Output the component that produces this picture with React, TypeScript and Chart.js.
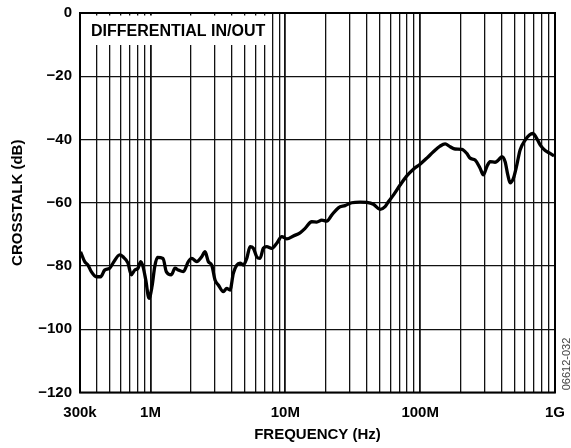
import React, { useEffect, useRef } from "react";
import { Chart, registerables } from "chart.js";

Chart.register(...registerables);

// Frequency (Hz) and crosstalk (dB)
const freqHz = [
  303e3, 325e3, 344e3, 364e3, 396e3, 427e3, 457e3, 498e3, 527e3, 591e3,
  625e3, 681e3, 720e3, 764e3, 808e3, 846e3, 880e3, 922e3, 975e3, 1.026e6,
  1.075e6, 1.124e6, 1.238e6, 1.31e6, 1.427e6, 1.52e6, 1.609e6, 1.752e6, 1.908e6, 2.022e6,
  2.202e6, 2.398e6, 2.538e6, 2.685e6, 2.846e6, 3.01e6, 3.185e6, 3.469e6, 3.677e6, 3.89e6,
  4.115e6, 4.362e6, 4.614e6, 4.881e6, 5.175e6, 5.474e6, 5.791e6, 6.138e6, 6.493e6, 6.868e6,
  7.28e6, 7.929e6, 8.636e6, 9.406e6, 10.25e6, 11.47e6, 12.86e6, 14.01e6, 15.7e6, 17.1e6,
  18.63e6, 20.29e6, 22.1e6, 24.74e6, 27.73e6, 31.09e6, 35.85e6, 40.2e6, 44.98e6, 50.43e6,
  54.93e6, 58.11e6, 63.3e6, 70.97e6, 79.58e6, 89.07e6, 99.87e6, 112e6, 125.3e6, 140.5e6,
  153.1e6, 166.7e6, 181.6e6, 203.6e6, 221.7e6, 234.6e6, 255.5e6, 278.3e6, 294.4e6, 312.1e6,
  330e6, 359.5e6, 380.4e6, 403.3e6, 426.6e6, 446.7e6, 464.6e6, 491.4e6, 520.7e6, 551e6,
  600.3e6, 646.2e6, 684.6e6, 724.4e6, 775.9e6, 845.2e6, 920.5e6, 985e6,
];
const crosstalkDb = [
  -75.5, -78.6, -79.7, -81.8, -83.4, -83.4, -81.3, -80.7, -79.1, -76.5,
  -77.1, -79.1, -82.8, -81.3, -80.7, -78.6, -80.2, -84.4, -90.2, -86.5,
  -80.2, -77.3, -77.6, -81.8, -82.8, -80.7, -81.3, -81.8, -78.6, -77.6,
  -78.6, -77.1, -75.5, -78.6, -79.7, -84.4, -86.0, -88.1, -87.1, -87.6,
  -82.3, -79.7, -79.1, -79.7, -77.6, -73.9, -74.4, -77.1, -77.6, -74.4,
  -73.9, -74.4, -72.8, -70.7, -71.4, -70.5, -69.5, -68.1, -66.0, -66.1,
  -65.5, -65.8, -63.9, -61.6, -60.9, -60.0, -59.8, -59.9, -60.5, -62.1,
  -61.2, -59.7, -57.6, -54.4, -51.5, -49.4, -47.8, -45.9, -43.9, -42.1,
  -41.4, -42.3, -43.0, -43.1, -44.4, -45.9, -46.5, -49.1, -51.2, -48.6,
  -47.0, -47.2, -46.5, -45.4, -47.0, -51.2, -53.7, -52.3, -48.1, -43.3,
  -40.2, -38.6, -38.1, -39.3, -41.7, -43.5, -44.4, -45.2,
];

const xTickValues = [
  3e5, 4e5, 5e5, 6e5, 7e5, 8e5, 9e5,
  1e6, 2e6, 3e6, 4e6, 5e6, 6e6, 7e6, 8e6, 9e6,
  1e7, 2e7, 3e7, 4e7, 5e7, 6e7, 7e7, 8e7, 9e7,
  1e8, 2e8, 3e8, 4e8, 5e8, 6e8, 7e8, 8e8, 9e8,
  1e9,
];
const xLabelValues = [3e5, 1e6, 1e7, 1e8, 1e9];
const xLabelTexts = ["300k", "1M", "10M", "100M", "1G"];
const yTickValues = [-120, -100, -80, -60, -40, -20, 0];

const FONT = "'Liberation Sans', Arial, Helvetica, sans-serif";

const overlayPlugin = {
  id: "overlay",
  beforeDatasetsDraw(chart: any) {
    const { ctx, chartArea } = chart;
    ctx.save();
    // legend box covering the grid
    ctx.fillStyle = "#fff";
    ctx.fillRect(chartArea.left + 1, chartArea.top + 2.5, 268 - chartArea.left - 1, 45 - chartArea.top - 2.5);
    ctx.fillStyle = "#000";
    ctx.font = `bold 16px ${FONT}`;
    ctx.textAlign = "left";
    ctx.textBaseline = "alphabetic";
    ctx.fillText("DIFFERENTIAL IN/OUT", 91, 35.5);
    ctx.restore();
  },
  afterDraw(chart: any) {
    const { ctx, chartArea } = chart;
    ctx.save();
    ctx.strokeStyle = "#000";
    ctx.lineWidth = 2;
    ctx.strokeRect(chartArea.left, chartArea.top, chartArea.right - chartArea.left, chartArea.bottom - chartArea.top);
    ctx.fillStyle = "#000";
    ctx.font = `bold 15px ${FONT}`;
    ctx.textAlign = "center";
    ctx.textBaseline = "alphabetic";
    ctx.fillText("FREQUENCY (Hz)", (chartArea.left + chartArea.right) / 2, 439);
    ctx.save();
    ctx.translate(22, (chartArea.top + chartArea.bottom) / 2);
    ctx.rotate(-Math.PI / 2);
    ctx.fillText("CROSSTALK (dB)", 0, 0);
    ctx.restore();
    ctx.save();
    ctx.translate(570, 364);
    ctx.rotate(-Math.PI / 2);
    ctx.font = `11px ${FONT}`;
    ctx.fillStyle = "#444";
    ctx.fillText("06612-032", 0, 0);
    ctx.restore();
    ctx.restore();
  },
};

export default function App() {
  const ref = useRef<HTMLCanvasElement>(null);
  useEffect(() => {
    if (!ref.current) return;
    const data = freqHz.map((f, i) => ({ x: f, y: crosstalkDb[i] }));
    const chart = new Chart(ref.current, {
      type: "line",
      data: {
        datasets: [
          {
            data,
            borderColor: "#000",
            borderWidth: 3.3,
            pointRadius: 0,
            fill: false,
            tension: 0.25,
            cubicInterpolationMode: "monotone",
          } as any,
        ],
      },
      plugins: [overlayPlugin],
      options: {
        animation: false,
        responsive: false,
        devicePixelRatio: 1,
        layout: { padding: { top: 13, right: 16, left: 0, bottom: 0 } },
        plugins: { legend: { display: false }, tooltip: { enabled: false } },
        scales: {
          x: {
            type: "logarithmic",
            min: 3e5,
            max: 1e9,
            afterBuildTicks: (scale: any) => {
              scale.ticks = xTickValues.map((v) => ({ value: v }));
            },
            afterFit: (scale: any) => {
              scale.height = 55.5;
              scale.paddingLeft = 0;
              scale.paddingRight = 0;
            },
            ticks: {
              autoSkip: false,
              maxRotation: 0,
              minRotation: 0,
              padding: 11,
              color: "#000",
              font: { family: FONT, size: 15, weight: "bold" },
              callback: (v: any) => {
                const i = xLabelValues.findIndex((x) => Math.abs(x - Number(v)) < 1);
                return i >= 0 ? xLabelTexts[i] : "";
              },
            },
            grid: {
              drawTicks: false,
              color: "#111",
              lineWidth: (c: any) => {
                const v = c.tick ? c.tick.value : 0;
                return xLabelValues.some((x) => Math.abs(x - v) < 1) ? 1.8 : 1.3;
              },
            },
            border: { display: false },
          },
          y: {
            type: "linear",
            min: -120,
            max: 0,
            afterBuildTicks: (scale: any) => {
              scale.ticks = yTickValues.map((v) => ({ value: v }));
            },
            afterFit: (scale: any) => {
              scale.width = 80;
              scale.paddingTop = 0;
              scale.paddingBottom = 0;
            },
            ticks: {
              padding: 8,
              color: "#000",
              font: { family: FONT, size: 15, weight: "bold" },
              callback: (v: any) => (Number(v) < 0 ? "\u2212" + Math.abs(Number(v)) : String(v)),
            },
            grid: { drawTicks: false, color: "#111", lineWidth: 1.3 },
            border: { display: false },
          },
        },
      },
    });
    return () => chart.destroy();
  }, []);
  return (
    <div style={{ position: "fixed", left: 0, top: 0, width: 571, height: 448, background: "#fff" }}>
      <canvas ref={ref} width={571} height={448} style={{ width: 571, height: 448 }} />
    </div>
  );
}
